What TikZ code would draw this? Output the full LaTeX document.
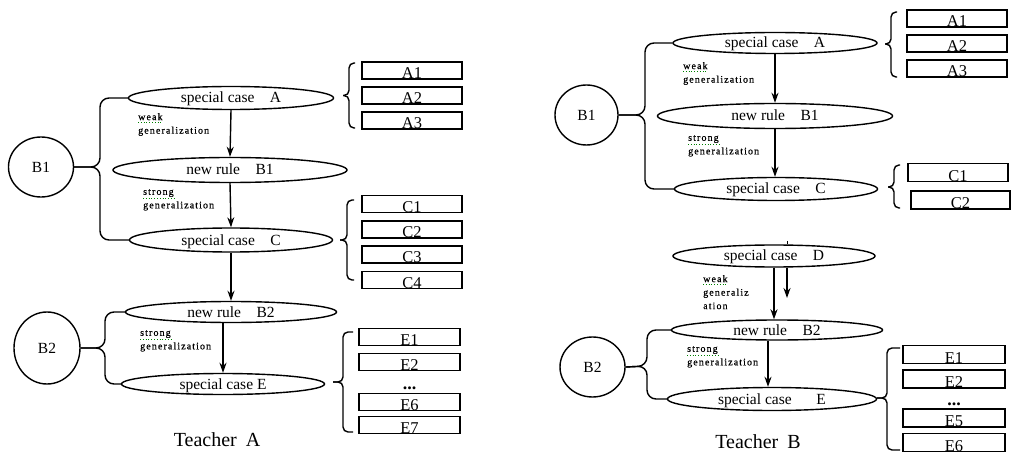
\documentclass[tikz,border=0pt]{standalone}
\usepackage{fontspec}
\setmainfont{Liberation Serif}
\newfontfamily\lblfont[LetterSpace=11,FakeBold=0.6]{Liberation Serif}
\usetikzlibrary{shapes.geometric,arrows.meta}
\begin{document}
\begin{tikzpicture}[x=1pt,y=-1pt,
  ell/.style={ellipse,draw,line width=1.4pt,inner sep=0pt,text height=10pt,text depth=0pt,font=\fontsize{15.5}{18}\selectfont},
  circ/.style={ellipse,draw,line width=1.4pt,inner sep=0pt,font=\fontsize{15.5}{18}\selectfont},
  bx/.style={rectangle,draw,line width=1.7pt,minimum width=100pt,minimum height=17pt,inner sep=0pt},
  bxl/.style={anchor=base,inner sep=0pt,yshift=1pt,font=\fontsize{16.5}{18}\selectfont},
  dots/.style={inner sep=0pt,text height=3pt,text depth=0pt,font=\bfseries\fontsize{18}{20}\selectfont},
  arr/.style={line width=1.4pt,-{Stealth[length=10pt,width=7pt]}},
  brc/.style={line width=1.4pt,rounded corners=9pt},
  brs/.style={line width=1.4pt,rounded corners=5pt},
  gen/.style={align=left,anchor=north west,inner sep=0pt,font=\lblfont\fontsize{10}{13.5}\selectfont},
  sq/.style={green!50!black,dotted,line width=0.8pt},
  ttl/.style={inner sep=0pt,font=\fontsize{20}{22}\selectfont},
  ]
\useasboundingbox (0,0) rectangle (1011,454);

% ================= Teacher A =================
\node[circ,minimum width=65pt,minimum height=60pt] (aB1) at (41,167) {B1};
\node[ell,minimum width=205pt,minimum height=23pt] (aA) at (231,98) {special case\hspace{1em}A};
\node[ell,minimum width=234pt,minimum height=25pt] (aR1) at (230,170) {new rule\hspace{1em}B1};
\node[ell,minimum width=203pt,minimum height=24pt] (aC) at (231,240) {special case\hspace{1em}C};
\node[ell,minimum width=211pt,minimum height=21pt] (aR2) at (231,312) {new rule\hspace{1em}B2};
\node[circ,minimum width=66pt,minimum height=72pt] (aB2) at (47,348) {B2};
\node[ell,minimum width=203pt,minimum height=21pt] (aE) at (223,384) {special case E};

\draw[arr] (aA.south) -- (aR1.north);
\draw[arr] (aR1.south) -- (aC.north);
\draw[arr] (aC.south) -- (aR2.north);
\draw[arr] (aE.north |- aR2.south) -- (aE.north);

\node[gen] (aw) at (138,113) {weak\\generalization};
\node[gen] (as1) at (143,189) {strong\\generalization};
\node[gen] (as2) at (140,330) {strong\\generalization};
\draw[sq] ([yshift=-9pt]aw.north west) -- ++(24,0);
\draw[sq] ([yshift=-9pt]as1.north west) -- ++(31,0);
\draw[sq] ([yshift=-9pt]as2.north west) -- ++(31,0);

% left braces
\draw[brc] (aA.west) -| (100,167) -- (aB1.east);
\draw[brc] (aC.west) -| (100,167) -- (aB1.east);
\draw[brc] (aR2.west) -| (105,348) -- (aB2.east);
\draw[brc] (aE.west) -| (105,348) -- (aB2.east);

% boxes
\node[bx,label={[bxl]south:A1}] (aA1) at (412,70.5) {};
\node[bx,label={[bxl]south:A2}] (aA2) at (412,95.5) {};
\node[bx,label={[bxl]south:A3}] (aA3) at (412,120.5) {};
\node[bx,label={[bxl]south:C1}] (aC1) at (412,204) {};
\node[bx,label={[bxl]south:C2}] (aC2) at (412,229.5) {};
\node[bx,label={[bxl]south:C3}] (aC3) at (412,254.5) {};
\node[bx,label={[bxl]south:C4}] (aC4) at (412,280) {};
\node[bx,minimum width=101pt,label={[bxl]south:E1}] (aE1) at (409.5,337) {};
\node[bx,minimum width=101pt,label={[bxl]south:E2}] (aE2) at (409.5,362) {};
\node[dots] (aEd) at (409.5,388) {...};
\node[bx,minimum width=101pt,label={[bxl]south:E6}] (aE6) at (409.5,402) {};
\node[bx,minimum width=101pt,label={[bxl]south:E7}] (aE7) at (409.5,425) {};

% box braces
\draw[brs] (355,63) -| (349,95.5) -- (343,95.5);
\draw[brs] (355,128) -| (349,95.5) -- (343,95.5);
\draw[brs] (354,200) -| (347,240) -- (340,240);
\draw[brs] (354,280) -| (347,240) -- (340,240);
\draw[brs] (353,332) -| (343,382) -- (333,382);
\draw[brs] (353,432) -| (343,382) -- (333,382);

\node[ttl] (tA) at (217,440) {Teacher\hspace{0.45em}A};

% ================= Teacher B =================
\node[circ,minimum width=63pt,minimum height=60pt] (bB1) at (586.5,115) {B1};
\node[ell,minimum width=204pt,minimum height=21pt] (bA) at (775,43) {special case\hspace{1em}A};
\node[ell,minimum width=235pt,minimum height=25pt] (bR1) at (775,116) {new rule\hspace{1em}B1};
\node[ell,minimum width=203pt,minimum height=23pt] (bC) at (776,189) {special case\hspace{1em}C};
\node[ell,minimum width=202pt,minimum height=22pt] (bD) at (774,256) {special case\hspace{1em}D};
\node[ell,minimum width=211pt,minimum height=20pt] (bR2) at (777,330) {new rule\hspace{1em}B2};
\node[circ,minimum width=65pt,minimum height=60pt] (bB2) at (592.5,367) {B2};
\node[ell,minimum width=209pt,minimum height=23pt] (bE) at (772,399) {special case\hspace{1.6em}E};

\draw[arr] (bA.south) -- (bA.south |- bR1.north);
\draw[arr] (bR1.south) -- (bR1.south |- bC.north);
\draw[arr] (bD.south) -- (bD.south |- bR2.north);
\coordinate (dEnd) at (787,298);
\coordinate (dTick) at (787,241);
\draw[arr] (dEnd |- bD.south) -- (dEnd);
\draw[line width=1pt] (dTick) -- (dTick |- bD.north);
\draw[arr] ([xshift=-9pt]bR2.south) -- ([xshift=-9pt]bR2.south |- bE.north);

\node[gen] (bw) at (683,62) {weak\\generalization};
\node[gen] (bs1) at (688,135) {strong\\generalization};
\node[gen] (bw2) at (703,275) {weak\\generaliz\\ation};
\node[gen] (bs2) at (687,346) {strong\\generalization};
\draw[sq] ([yshift=-9pt]bw.north west) -- ++(24,0);
\draw[sq] ([yshift=-9pt]bs1.north west) -- ++(31,0);
\draw[sq] ([yshift=-9pt]bw2.north west) -- ++(24,0);
\draw[sq] ([yshift=-9pt]bs2.north west) -- ++(31,0);

\draw[brc] (bA.west) -| (645,115) -- (bB1.east);
\draw[brc] (bC.west) -| (645,115) -- (bB1.east);
\draw[brc] (bR2.west) -| (647,366) -- (bB2.east);
\draw[brc] (bE.west) -| (647,366) -- (bB2.east);

\node[bx,label={[bxl]south:A1}] (bA1) at (957,18.5) {};
\node[bx,label={[bxl]south:A2}] (bA2) at (957,43.5) {};
\node[bx,label={[bxl]south:A3}] (bA3) at (957,68.5) {};
\node[bx,minimum height=18pt,label={[bxl]south:C1}] (bC1) at (958,172.5) {};
\node[bx,minimum width=99pt,minimum height=18pt,label={[bxl]south:C2}] (bC2) at (960.5,200) {};
\node[bx,minimum width=102pt,minimum height=18pt,label={[bxl]south:E1}] (bE1) at (954,354.5) {};
\node[bx,minimum width=102pt,minimum height=18pt,label={[bxl]south:E2}] (bE2) at (954,379) {};
\node[dots] (bEd) at (954,404) {...};
\node[bx,minimum width=102pt,minimum height=18pt,label={[bxl]south:E5}] (bE5) at (954,418) {};
\node[bx,minimum width=102pt,minimum height=18pt,label={[bxl]south:E6}] (bE6) at (954,442.5) {};

\draw[brs] (897,12) -| (891,44) -- (885,44);
\draw[brs] (897,77) -| (891,44) -- (885,44);
\draw[brs] (900,165) -| (894,187) -- (888,187);
\draw[brs] (900,208) -| (894,187) -- (888,187);
\draw[brs] (900,348) -| (887,398) -- (877,398);
\draw[brs] (900,450) -| (887,398) -- (877,398);

\node[ttl] (tB) at (758,442) {Teacher\hspace{0.45em}B};
\end{tikzpicture}
\end{document}
